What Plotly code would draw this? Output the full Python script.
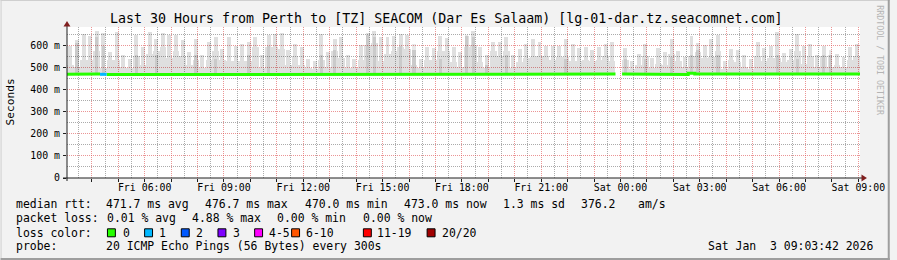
import plotly.graph_objects as go
import pandas as pd

# ---------------- data ----------------
title_text = "Last 30 Hours from Perth to [TZ] SEACOM (Dar Es Salaam) [lg-01-dar.tz.seacomnet.com]"
range_start = "2026-01-02 03:03:42"
range_end = "2026-01-03 09:03:42"
bin_minutes = 15

# top of the light smoke spikes (max rtt in bin), ms
smoke_top = [
    600, 626, 655, 645, 667, 660, 573, 664, 558, 542, 648, 595, 664, 633, 660, 650, 648, 626, 573, 633, 558, 618, 641, 588,
    640, 600, 610, 620, 641, 558, 650, 652, 660, 580, 610, 595, 542, 530, 655, 573, 630, 640, 558, 542, 603, 660, 670, 640,
    640, 645, 655, 650, 580, 542, 595, 590, 645, 635, 595, 573, 645, 670, 595, 558, 620, 618, 641, 558, 588, 610, 630, 618,
    598, 598, 600, 630, 610, 590, 595, 580, 597, 610, 620, None, 590, 530, 565, 610, 545, 590, 573, 633, 575, 550, 645, 615,
    605, 630, 650, 530, 588, 580, 558, 540, 618, 590, 598, 664, 568, 588, 655, 600, 610, 558, 600, 558, 565, 550, 595, 610,
]
# bulk of the light smoke across the whole bin, ms
smoke_low = [
    515, 505, 535, 535, 575, 500, 535, 535, 505, 500, 555, 515, 565, 575, 595, 545, 575, 555, 515, 535, 500, 535, 575, 535,
    533, 533, 533, 533, 595, 500, 595, 595, 585, 515, 555, 515, 500, 495, 535, 505, 575, 545, 500, 500, 535, 605, 615, 533,
    563, 575, 595, 585, 515, 500, 535, 535, 575, 575, 525, 505, 595, 605, 525, 500, 575, 555, 575, 500, 525, 545, 548, 555,
    555, 535, 548, 548, 533, 533, 535, 533, 535, 555, 533, None, 535, 495, 515, 555, 500, 517, 515, 565, 533, 505, 555, 573,
    545, 548, 575, 495, 535, 525, 505, 495, 555, 533, 545, 545, 525, 535, 575, 517, 555, 505, 555, 505, 515, 505, 535, 555,
]
# top of the darker inner smoke band, ms (None = no dark band visible)
smoke_mid = [
    None, 615, None, None, 640, 600, None, None, None, None, 560, None, None, 560, None, None, None, None, None, 560, None, None, 540, None,
    None, None, None, 560, None, None, 600, None, None, None, None, None, None, None, 560, None, 580, None, None, None, None, 650, 640, None,
    None, None, 600, None, 610, None, None, None, 540, None, None, None, 650, 640, None, 515, None, None, 560, None, None, None, None, None,
    None, None, None, 540, None, None, None, None, None, None, None, None, 540, None, None, 540, None, None, None, 550, None, None, 560, 580,
    None, None, 560, None, None, None, None, None, None, None, None, 560, None, None, 540, None, None, None, 560, 580, None, None, None, None,
]
# median rtt, ms
median_rtt = [
    471, 472, 472, 470, 472, 471, 470, 472, 472, 470, 472, 472, 472, 471, 472, 472, 470, 472, 472, 472, 471, 472, 472, 472,
    470, 472, 472, 471, 472, 472, 472, 470, 472, 472, 471, 472, 472, 472, 470, 472, 472, 471, 472, 472, 472, 471, 472, 472,
    472, 470, 472, 472, 472, 471, 472, 472, 470, 472, 472, 472, 471, 472, 472, 472, 470, 472, 472, 472, 471, 472, 472, 470,
    472, 472, 471, 472, 472, 472, 470, 472, 472, 471, 472, None, 472, 472, 470, 472, 472, 472, 471, 472, 472, 470, 476, 472,
    472, 471, 472, 472, 470, 472, 472, 472, 471, 472, 472, 472, 470, 472, 472, 471, 472, 472, 472, 470, 472, 472, 471, 472,
]
# lost pings (of 20) per bin
loss_count = [
    0, 0, 0, 0, 0, 1, 0, 0, 0, 0, 0, 0, 0, 0, 0, 0, 0, 0, 0, 0, 0, 0, 0, 0,
    0, 0, 0, 0, 0, 0, 0, 0, 0, 0, 0, 0, 0, 0, 0, 0, 0, 0, 0, 0, 0, 0, 0, 0,
    0, 0, 0, 0, 0, 0, 0, 0, 0, 0, 0, 0, 0, 0, 0, 0, 0, 0, 0, 0, 0, 0, 0, 0,
    0, 0, 0, 0, 0, 0, 0, 0, 0, 0, 0, 0, 0, 0, 0, 0, 0, 0, 0, 0, 0, 0, 0, 0,
    0, 0, 0, 0, 0, 0, 0, 0, 0, 0, 0, 0, 0, 0, 0, 0, 0, 0, 0, 0, 0, 0, 0, 0,
]

y_tick_values = [0, 100, 200, 300, 400, 500, 600]
y_tick_labels = ["0", "100 m", "200 m", "300 m", "400 m", "500 m", "600 m"]
y_minor_values = [50, 150, 250, 350, 450, 550, 650]
y_max = 686

x_label_times = ["2026-01-02 06:00", "2026-01-02 09:00", "2026-01-02 12:00", "2026-01-02 15:00",
                 "2026-01-02 18:00", "2026-01-02 21:00", "2026-01-03 00:00", "2026-01-03 03:00",
                 "2026-01-03 06:00", "2026-01-03 09:00"]
x_label_texts = ["Fri 06:00", "Fri 09:00", "Fri 12:00", "Fri 15:00", "Fri 18:00", "Fri 21:00",
                 "Sat 00:00", "Sat 03:00", "Sat 06:00", "Sat 09:00"]

loss_labels = ["0", "1", "2", "3", "4-5", "6-10", "11-19", "20/20"]
loss_colors = ["#26ff00", "#00b8ff", "#0059ff", "#7e00ff", "#ff00ff", "#ff5500", "#ff0000", "#a00000"]

stats_median = ["median rtt:", "471.7 ms avg", "476.7 ms max", "470.0 ms min", "473.0 ms now",
                "1.3 ms sd", "376.2", "am/s"]
stats_loss = ["packet loss:", "0.01 % avg", "4.88 % max", "0.00 % min", "0.00 % now"]
probe_text = ["probe:", "20 ICMP Echo Pings (56 Bytes) every 300s"]
date_text = "Sat Jan  3 09:03:42 2026"

# ---------------- layout helpers (pixels -> paper) ----------------
W, H = 897, 260
PL, PR, PT, PB = 67, 867, 27, 178
FONT = "DejaVu Sans Mono"
LEG_SIZE = 11.45
SMOKE = "rgba(0,0,0,0.125)"


def fx(px):
    return (px - PL) / (PR - PL)


def fy(py):
    return (PB - py) / (PB - PT)


def nb(s):
    return s.replace(" ", "\u00a0")


def diff(a, b):
    return [None if (x is None or y is None) else x - y for x, y in zip(a, b)]


# ---------------- derived x positions ----------------
n = len(smoke_top)
t0 = pd.Timestamp(range_start)
step = pd.Timedelta(minutes=bin_minutes)
bin_start = [t0 + step * k for k in range(n)]
bin_center = [s + step / 2 for s in bin_start]
bin_end = [s + step for s in bin_start]
fmt = "%Y-%m-%d %H:%M:%S"
xc = [c.strftime(fmt) for c in bin_center]
bin_ms = step.total_seconds() * 1000

fig = go.Figure()

# light smoke: bulk over whole bin
fig.add_trace(go.Bar(x=xc, y=diff(smoke_low, median_rtt), base=median_rtt, width=bin_ms,
                     marker=dict(color=SMOKE, line=dict(width=0)), hoverinfo="skip"))
# light smoke: spikes
fig.add_trace(go.Bar(x=xc, y=diff(smoke_top, smoke_low), base=smoke_low, width=bin_ms * 0.6,
                     marker=dict(color=SMOKE, line=dict(width=0)), hoverinfo="skip"))
# darker inner smoke
fig.add_trace(go.Bar(x=xc, y=diff(smoke_mid, median_rtt), base=median_rtt, width=bin_ms * 0.5,
                     marker=dict(color="rgba(0,0,0,0.09)", line=dict(width=0)), hoverinfo="skip"))


def loss_bucket(lc):
    if lc <= 3:
        return lc
    if lc <= 5:
        return 4
    if lc <= 10:
        return 5
    if lc <= 19:
        return 6
    return 7


# median line, coloured by loss
for lc_idx, col in enumerate(loss_colors):
    xs, ys = [], []
    for k in range(n):
        m = median_rtt[k]
        if m is None or loss_bucket(loss_count[k]) != lc_idx:
            xs.append(None)
            ys.append(None)
            continue
        xs += [bin_start[k].strftime(fmt), bin_end[k].strftime(fmt)]
        ys += [m, m]
    if any(v is not None for v in ys):
        fig.add_trace(go.Scatter(x=xs, y=ys, mode="lines", line=dict(color=col, width=3),
                                 hoverinfo="skip", connectgaps=False))

# ---------------- axes ----------------
hour_ticks = pd.date_range("2026-01-02 04:00", "2026-01-03 09:00", freq="1h")
label_map = dict(zip(x_label_times, x_label_texts))
hour_tickvals = [h.strftime(fmt) for h in hour_ticks]
hour_ticktext = [label_map.get(h.strftime("%Y-%m-%d %H:%M"), "") for h in hour_ticks]
half_ticks = pd.date_range("2026-01-02 03:30", "2026-01-03 08:30", freq="1h")

MAJ = "rgba(222,79,79,0.6)"
MIN = "rgba(143,143,143,0.75)"

fig.update_layout(
    width=W, height=H,
    margin=dict(l=PL, r=W - PR, t=PT, b=H - PB, pad=0),
    paper_bgcolor="#f2f2f2",
    plot_bgcolor="#ffffff",
    barmode="overlay",
    bargap=0,
    showlegend=False,
    font=dict(family=FONT, color="#000000"),
    xaxis=dict(
        type="date",
        range=[range_start, range_end],
        tickmode="array", tickvals=hour_tickvals, ticktext=hour_ticktext,
        showgrid=True, gridcolor=MAJ, griddash="1px,1px", gridwidth=1,
        ticks="outside", ticklen=3, tickcolor="#1f1f1f", tickwidth=1,
        tickfont=dict(family=FONT, size=9.9, color="#000000"),
        ticklabelstandoff=-3,
        showline=False, zeroline=False, fixedrange=True,
        minor=dict(tickmode="array", tickvals=[h.strftime(fmt) for h in half_ticks],
                   showgrid=True, gridcolor=MIN, griddash="1px,1px", gridwidth=1, ticks=""),
    ),
    yaxis=dict(
        range=[0, y_max],
        tickmode="array", tickvals=y_tick_values, ticktext=y_tick_labels,
        showgrid=True, gridcolor=MAJ, griddash="1px,1px", gridwidth=1,
        ticks="outside", ticklen=3, tickcolor="#1f1f1f", tickwidth=1,
        tickfont=dict(family=FONT, size=9.9, color="#000000"),
        ticklabelstandoff=1,
        showline=False, zeroline=False, fixedrange=True,
        minor=dict(tickmode="array", tickvals=y_minor_values,
                   showgrid=True, gridcolor=MIN, griddash="1px,1px", gridwidth=1, ticks=""),
    ),
)

shapes = []
# axis lines
shapes.append(dict(type="line", xref="paper", yref="paper", x0=fx(63), x1=fx(869), y0=fy(178), y1=fy(178),
                   line=dict(color="#1f1f1f", width=1)))
shapes.append(dict(type="line", xref="paper", yref="paper", x0=fx(67), x1=fx(67), y0=fy(181), y1=fy(25),
                   line=dict(color="#1f1f1f", width=1)))
# arrows
shapes.append(dict(type="path", xref="paper", yref="paper",
                   path=f"M {fx(67)} {fy(21)} L {fx(63.5)} {fy(26.5)} L {fx(70.5)} {fy(26.5)} Z",
                   fillcolor="#801f1f", line=dict(width=0)))
shapes.append(dict(type="path", xref="paper", yref="paper",
                   path=f"M {fx(874)} {fy(178)} L {fx(868.5)} {fy(174.5)} L {fx(868.5)} {fy(181.5)} Z",
                   fillcolor="#801f1f", line=dict(width=0)))
# frame of the image
shapes.append(dict(type="line", xref="paper", yref="paper", x0=fx(0), x1=fx(W), y0=fy(0.5), y1=fy(0.5),
                   line=dict(color="#cfcfcf", width=1)))
shapes.append(dict(type="line", xref="paper", yref="paper", x0=fx(0.5), x1=fx(0.5), y0=fy(0), y1=fy(H),
                   line=dict(color="#cfcfcf", width=1)))
shapes.append(dict(type="line", xref="paper", yref="paper", x0=fx(0), x1=fx(W), y0=fy(259), y1=fy(259),
                   line=dict(color="#9e9e9e", width=2)))
shapes.append(dict(type="line", xref="paper", yref="paper", x0=fx(896), x1=fx(896), y0=fy(0), y1=fy(H),
                   line=dict(color="#9e9e9e", width=2)))

annotations = []


def ann(text, px, py, size=LEG_SIZE, xanchor="left", color="#000000", angle=0):
    annotations.append(dict(text=nb(text), x=fx(px), y=fy(py), xref="paper", yref="paper",
                            xanchor=xanchor, yanchor="middle", showarrow=False, textangle=angle,
                            borderpad=0, borderwidth=0,
                            font=dict(family=FONT, size=size, color=color)))


ann(title_text, 449.5, 19, size=13.3, xanchor="center")
ann("Seconds", 10, 102, size=11.2, xanchor="center", angle=-90)
ann("RRDTOOL / TOBI OETIKER", 887, 60, size=8.3, xanchor="center", color="#b4b4b4", angle=90)

median_x = [16, 106.7, 206.7, 306.7, 406.7, 507.3, 586, 643]
for t, px in zip(stats_median, median_x):
    ann(t, px, 204)
loss_x = [16, 107.3, 193, 279.3, 365.7]
for t, px in zip(stats_loss, loss_x):
    ann(t, px, 218.3)
ann("loss color:", 16, 232.5)
box_x = [107.8, 145.3, 182.3, 219.3, 256.3, 293.6, 366, 430.3]
lab_x = [123.3, 160, 197.3, 234.3, 271, 308, 380, 445]
for lab, col, bx, lx in zip(loss_labels, loss_colors, box_x, lab_x):
    shapes.append(dict(type="rect", xref="paper", yref="paper", x0=fx(bx), x1=fx(bx + 8),
                       y0=fy(236.8), y1=fy(228.8), fillcolor=col, line=dict(color="#000000", width=1)))
    ann(lab, lx, 232.5)
ann(probe_text[0], 16, 246.3)
ann(probe_text[1], 106.7, 246.3)
ann(date_text, 880, 246.3, xanchor="right")

fig.update_layout(shapes=shapes, annotations=annotations)
fig.write_html("out.html")
